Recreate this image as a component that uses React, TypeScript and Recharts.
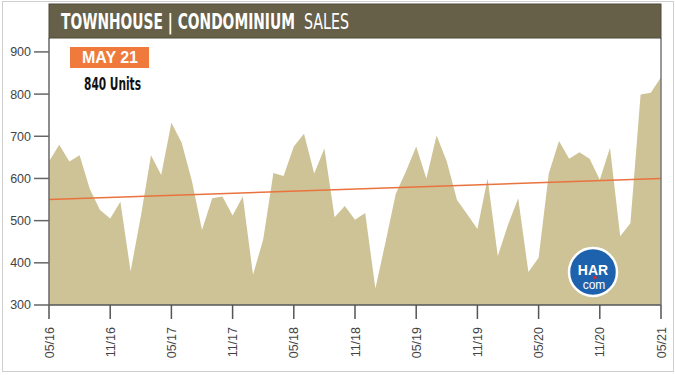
import { AreaChart, Area, XAxis, YAxis, ReferenceLine } from "recharts";

const months = [
  "05/16", "06/16", "07/16", "08/16", "09/16", "10/16", "11/16", "12/16",
  "01/17", "02/17", "03/17", "04/17", "05/17", "06/17", "07/17", "08/17", "09/17", "10/17", "11/17", "12/17",
  "01/18", "02/18", "03/18", "04/18", "05/18", "06/18", "07/18", "08/18", "09/18", "10/18", "11/18", "12/18",
  "01/19", "02/19", "03/19", "04/19", "05/19", "06/19", "07/19", "08/19", "09/19", "10/19", "11/19", "12/19",
  "01/20", "02/20", "03/20", "04/20", "05/20", "06/20", "07/20", "08/20", "09/20", "10/20", "11/20", "12/20",
  "01/21", "02/21", "03/21", "04/21", "05/21",
];

const sales = [
  640, 680, 640, 655, 575, 525, 505, 545,
  380, 510, 655, 608, 732, 685, 595, 478, 553, 557, 512, 557,
  372, 455, 613, 606, 676, 706, 612, 671, 508, 535, 502, 518,
  339, 450, 564, 617, 676, 600, 702, 640, 549, 515, 480, 600,
  416, 490, 553, 378, 412, 612, 689, 647, 662, 647, 597, 673,
  463, 494, 799, 803, 840,
];

const yTicks = [300, 400, 500, 600, 700, 800, 900];

// trend line end points (start / end month)
const trendStart = 550;
const trendEnd = 600;

const data = months.map((m, i) => ({ month: m, units: sales[i] }));

const FONT = '"Liberation Sans", Arial, sans-serif';
const NARROW = '"Liberation Sans Narrow", "DejaVu Sans Condensed", "Liberation Sans", sans-serif';

function MonthTick(props: any) {
  const { x, y, payload } = props;
  return (
    <text
      x={x}
      y={y}
      transform={`rotate(-90, ${x}, ${y})`}
      textAnchor="end"
      dy="0.36em"
      fontSize={12.5}
      fontFamily={FONT}
      fill="#444"
    >
      {payload.value}
    </text>
  );
}

export default function App() {
  return (
    <div style={{ position: "absolute", left: 0, top: 0, width: 675, height: 375, background: "#fff" }}>
      <div
        style={{
          position: "absolute",
          left: 2,
          top: 1,
          width: 670,
          height: 369,
          border: "1px solid #cfcfcf",
        }}
      />
      <AreaChart
        width={675}
        height={375}
        data={data}
        margin={{ top: 38, right: 13, left: 0, bottom: 9 }}
      >
        <XAxis
          dataKey="month"
          interval={5}
          height={61}
          tickSize={14}
          tickMargin={8}
          tick={<MonthTick />}
          stroke="#555"
          strokeWidth={1.5}
        />
        <YAxis
          domain={[300, 933]}
          ticks={yTicks}
          allowDataOverflow
          width={49}
          tickSize={15}
          tickMargin={3}
          stroke="#666"
          strokeWidth={1.5}
          tick={{ fontSize: 12.5, fontFamily: FONT, fill: "#444" }}
        />
        <YAxis
          yAxisId="right"
          orientation="right"
          width={1}
          tick={false}
          tickLine={false}
          stroke="#777"
          strokeWidth={1.5}
        />
        <Area
          type="linear"
          dataKey="units"
          stroke="none"
          fill="#cdc396"
          fillOpacity={1}
          isAnimationActive={false}
        />
        <ReferenceLine
          segment={[
            { x: months[0], y: trendStart },
            { x: months[months.length - 1], y: trendEnd },
          ]}
          stroke="#e9733e"
          strokeWidth={1.5}
        />
      </AreaChart>

      <svg
        style={{ position: "absolute", left: 0, top: 0 }}
        width={675}
        height={375}
        pointerEvents="none"
      >
        {/* title bar */}
        <rect x={49} y={4} width={612} height={34} fill="#676048" stroke="#4e4938" strokeWidth={1} />
        <g transform="translate(0, 29) scale(1, 1.4)">
          <text
            x={61}
            y={0}
            fontFamily={NARROW}
            fontWeight="bold"
            fontSize={15.5}
            fill="#fff"
            textLength={234}
            lengthAdjust="spacingAndGlyphs"
          >
            TOWNHOUSE | CONDOMINIUM
          </text>
          <text
            x={304}
            y={0}
            fontFamily={NARROW}
            fontSize={15.5}
            fill="#fff"
            textLength={45}
            lengthAdjust="spacingAndGlyphs"
          >
            SALES
          </text>
        </g>

        {/* latest month callout */}
        <rect x={70} y={47} width={79} height={21} fill="#f07a3c" />
        <text x={110} y={63} textAnchor="middle" fontFamily={FONT} fontWeight="bold" fontSize={16} fill="#fff">
          MAY 21
        </text>
        <text
          x={84}
          y={90}
          fontFamily={NARROW}
          fontWeight="bold"
          fontSize={17}
          fill="#111"
          textLength={57}
          lengthAdjust="spacingAndGlyphs"
        >
          840 Units
        </text>

        {/* HAR.com badge */}
        <circle cx={593} cy={272} r={24} fill="#1e62ad" stroke="#fff" strokeWidth={2.5} />
        <text x={593} y={275} textAnchor="middle" fontFamily={FONT} fontWeight="bold" fontSize={14} fill="#fff">
          HAR
        </text>
        <circle cx={595} cy={277.5} r={1.8} fill="#e0242a" />
        <text x={594} y={289} textAnchor="middle" fontFamily={FONT} fontSize={12} fill="#fff">
          com
        </text>
      </svg>
    </div>
  );
}
